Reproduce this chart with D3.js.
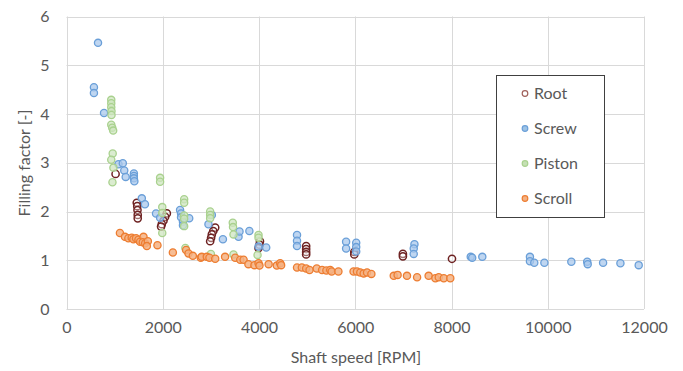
<!DOCTYPE html>
<html>
<head>
<meta charset="utf-8">
<script src="https://cdn.jsdelivr.net/npm/d3@7"></script>
<style>
  html, body { margin: 0; padding: 0; background: #fff; }
  svg { display: block; font-family: Lato, "Open Sans", sans-serif; }
</style>
</head>
<body>
<svg id="chart" width="683" height="371"></svg>
<script>
// Filling factor vs shaft speed, by compressor type
const seriesNames = ["Root", "Screw", "Piston", "Scroll"];

const rootPoints = [
  [1020, 2.77],
  [1460, 2.18], [1470, 2.11], [1475, 2.03], [1480, 1.93], [1480, 1.86],
  [2085, 1.96], [2050, 1.89], [2015, 1.81], [1980, 1.74], [1965, 1.69],
  [3090, 1.67], [3050, 1.60], [3020, 1.53], [3005, 1.46], [2985, 1.39],
  [4020, 1.39], [4010, 1.32], [3990, 1.25],
  [4980, 1.29], [4980, 1.23], [4980, 1.17], [4980, 1.12],
  [5980, 1.17], [5980, 1.12],
  [6990, 1.13], [6990, 1.08],
  [8010, 1.03]
];

const screwPoints = [
  [655, 5.46], [570, 4.55], [570, 4.43], [780, 4.02],
  [1080, 2.97], [1170, 2.99], [1200, 2.84], [1230, 2.71],
  [1400, 2.78], [1400, 2.73], [1400, 2.68], [1410, 2.62],
  [1565, 2.27], [1630, 2.15], [1860, 1.96], [1945, 1.87],
  [2360, 2.03], [2380, 1.96], [2380, 1.88], [2420, 1.79], [2550, 1.86], [2420, 1.72],
  [2950, 1.74], [3020, 1.93], [3250, 1.43], [3575, 1.48], [3595, 1.59], [3800, 1.60],
  [3990, 1.28], [4150, 1.26],
  [4790, 1.52], [4790, 1.40], [4790, 1.29],
  [5810, 1.38], [5810, 1.24],
  [6020, 1.36], [6020, 1.27], [6020, 1.18],
  [7230, 1.33], [7215, 1.24], [7215, 1.13],
  [8400, 1.07], [8430, 1.05], [8640, 1.07],
  [9630, 1.07], [9630, 0.98], [9720, 0.95], [9930, 0.95],
  [10490, 0.97], [10820, 0.97], [10830, 0.92], [11150, 0.95], [11510, 0.94], [11890, 0.90]
];

const pistonPoints = [
  [930, 4.29], [930, 4.22], [930, 4.14], [935, 4.06], [935, 3.98],
  [930, 3.78], [950, 3.72], [970, 3.66], [960, 3.19], [930, 3.06], [975, 2.90], [955, 2.60],
  [1945, 2.69], [1945, 2.61], [1990, 2.09], [1990, 1.97], [1990, 1.56],
  [2445, 2.25], [2445, 2.18], [2445, 1.92], [2445, 1.85], [2445, 1.70], [2470, 1.25],
  [2985, 2.00], [2985, 1.93], [2985, 1.86], [3000, 1.13],
  [3455, 1.77], [3460, 1.68], [3470, 1.53], [3470, 1.12],
  [3990, 1.52], [3990, 1.46], [3970, 1.11]
];

const scrollPoints = [
  [1110, 1.56],
  [1215, 1.48], [1285, 1.45], [1355, 1.46], [1390, 1.43], [1445, 1.45], [1495, 1.42],
  [1530, 1.38], [1600, 1.48], [1585, 1.37], [1635, 1.35], [1690, 1.39], [1670, 1.29], [1890, 1.31],
  [2210, 1.16], [2485, 1.21], [2535, 1.14], [2625, 1.09],
  [2790, 1.05], [2810, 1.07], [2915, 1.07], [2970, 1.05], [3090, 1.03], [3295, 1.07],
  [3505, 1.05], [3610, 1.01], [3680, 1.01], [3780, 0.92], [3905, 0.90], [3990, 0.94],
  [4010, 0.89], [4200, 0.92], [4370, 0.89], [4440, 0.94], [4460, 0.90],
  [4790, 0.85], [4890, 0.85], [4980, 0.83], [5050, 0.80], [5200, 0.83], [5310, 0.80],
  [5400, 0.79], [5480, 0.80], [5510, 0.77], [5650, 0.77],
  [5965, 0.77], [6035, 0.77], [6105, 0.75], [6175, 0.73], [6245, 0.75], [6335, 0.72],
  [6800, 0.68], [6880, 0.70], [7075, 0.68], [7285, 0.65], [7525, 0.68], [7665, 0.63],
  [7735, 0.65], [7840, 0.63], [7975, 0.63]
];

const xTicks = [0, 2000, 4000, 6000, 8000, 10000, 12000];
const yTicks = [0, 1, 2, 3, 4, 5, 6];

const styles = {
  Root:   { stroke: "#6e2222", fill: "#ffffff", fillOpacity: 0.35, width: 1.5 },
  Screw:  { stroke: "#6a9fd8", fill: "#a9c8ec", fillOpacity: 0.75, width: 1.3 },
  Piston: { stroke: "#a9d18e", fill: "#cfe5c0", fillOpacity: 0.75, width: 1.3 },
  Scroll: { stroke: "#ed7d31", fill: "#f4b183", fillOpacity: 0.85, width: 1.3 }
};

const series = [
  { name: "Root",   pts: rootPoints },
  { name: "Screw",  pts: screwPoints },
  { name: "Piston", pts: pistonPoints },
  { name: "Scroll", pts: scrollPoints }
];

const svg = d3.select("#chart");
const m = { left: 66.5, right: 644, top: 16.5, bottom: 309 };

const x = d3.scaleLinear().domain([0, 12000]).range([m.left, m.right]);
const y = d3.scaleLinear().domain([0, 6]).range([m.bottom, m.top]);

// gridlines
const grid = svg.append("g").attr("stroke", "#d9d9d9").attr("stroke-width", 1);
grid.selectAll("line.h").data(yTicks).join("line")
  .attr("x1", m.left).attr("x2", m.right)
  .attr("y1", d => Math.round(y(d)) + 0.5).attr("y2", d => Math.round(y(d)) + 0.5);
grid.selectAll("line.v").data(xTicks).join("line")
  .attr("y1", m.top).attr("y2", m.bottom)
  .attr("x1", d => Math.round(x(d)) + 0.5).attr("x2", d => Math.round(x(d)) + 0.5);

// axes (labels only; lines come from the grid)
const xAxis = svg.append("g")
  .attr("transform", `translate(0,${m.bottom})`)
  .call(d3.axisBottom(x).tickValues(xTicks).tickSize(0).tickPadding(13).tickFormat(d3.format("d")));
const yAxis = svg.append("g")
  .attr("transform", `translate(${m.left},0)`)
  .call(d3.axisLeft(y).tickValues(yTicks).tickSize(0).tickPadding(17).tickFormat(d3.format("d")));
[xAxis, yAxis].forEach(a => {
  a.select(".domain").remove();
  a.selectAll("text").attr("fill", "#595959").style("font-size", "16px").style("font-family", "Lato, sans-serif");
});

// points
series.forEach(s => {
  const st = styles[s.name];
  svg.append("g").selectAll("circle").data(s.pts).join("circle")
    .attr("cx", d => x(d[0])).attr("cy", d => y(d[1])).attr("r", 3.6)
    .attr("fill", st.fill).attr("fill-opacity", st.fillOpacity)
    .attr("stroke", st.stroke).attr("stroke-width", st.width);
});

// axis titles
svg.append("text")
  .attr("x", 356).attr("y", 363)
  .attr("text-anchor", "middle").attr("fill", "#595959").style("font-size", "16px")
  .text("Shaft speed [RPM]");
svg.append("text")
  .attr("transform", "translate(30,163) rotate(-90)")
  .attr("text-anchor", "middle").attr("fill", "#595959").style("font-size", "16px")
  .text("Filling factor [-]");

// legend
const lg = svg.append("g");
lg.append("rect").attr("x", 496.5).attr("y", 75.5).attr("width", 108).attr("height", 142)
  .attr("fill", "#fff").attr("stroke", "#404040").attr("stroke-width", 1);
const legendMarker = {
  Root:   { stroke: "#a0605a", fill: "#fff" },
  Screw:  { stroke: "#6a9fd8", fill: "#9dc3e6" },
  Piston: { stroke: "#a9d18e", fill: "#c5e0b4" },
  Scroll: { stroke: "#ed7d31", fill: "#f4b183" }
};
const legendY = d3.scalePoint().domain(seriesNames).range([93.5, 198.5]);
seriesNames.forEach(n => {
  const cy = legendY(n);
  lg.append("circle").attr("cx", 525).attr("cy", cy).attr("r", 2.8)
    .attr("fill", legendMarker[n].fill).attr("stroke", legendMarker[n].stroke).attr("stroke-width", 1.2);
  lg.append("text").attr("x", 534).attr("y", cy).attr("dy", "0.36em")
    .attr("fill", "#595959").style("font-size", "16px").text(n);
});
</script>
</body>
</html>
